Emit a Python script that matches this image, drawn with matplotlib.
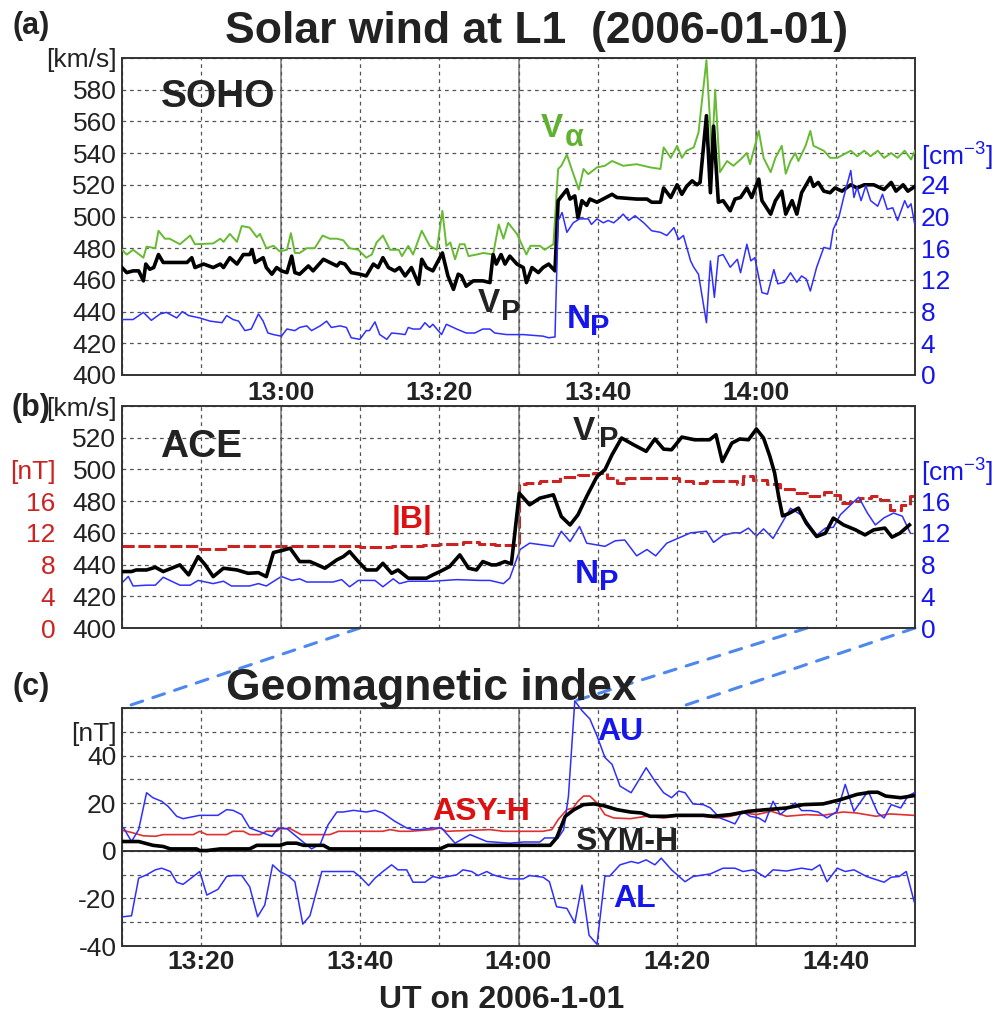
#### Solar wind at L1 / geomagnetic index, 2006-01-01 ####

import matplotlib
matplotlib.use('Agg')
import matplotlib.pyplot as plt
from matplotlib.patches import ConnectionPatch

plt.rcParams['font.family'] = ['Liberation Sans', 'DejaVu Sans']
plt.rcParams['mathtext.fontset'] = 'custom'
plt.rcParams['mathtext.rm'] = 'Liberation Sans'
plt.rcParams['mathtext.default'] = 'regular'

W, H = 992, 1016          # px
INK = '#222222'
BLUE = '#2f2fff'
BLUE_TXT = '#1515ee'
GREEN = '#66bb33'
RED = '#e03030'
BRED = '#cc2222'

T0_AB = 40   # panels a,b start at 12:40 UT (minutes after 12:00)
T0_C = 70    # panel c starts at 13:10 UT

# ---- SOHO (minutes after 12:40) ----
va_t = [0, 0.6, 1.4, 2.7, 3.1, 4.2, 4.6, 5.4, 6, 7.3,
        8.6, 9.2, 11.5, 12.4, 12.8, 13.6, 14.5, 15.1, 16.1, 17,
        17.4, 18.2, 19.1, 19.9, 20.8, 21.3, 21.8, 22.4, 23.3, 24.3,
        25.3, 26.2, 27.1, 27.9, 28.7, 29.8, 30.8, 31.5, 32.1, 32.9,
        33.8, 34.9, 35.3, 36.1, 36.7, 37.8, 38.8, 39.7, 40.4, 40.9,
        41.4, 42, 42.6, 43.2, 43.7, 44.7, 45.6, 46.8, 47.5, 48.1,
        48.7, 49.8, 51.0, 51.5, 52.7, 53.3, 54.4, 55.0, 55.4, 56.1,
        56.7, 57.6, 58.2, 58.8, 59.9, 60.9, 61.8, 63.2, 64.9, 66.6,
        67.9, 68.3, 69.2, 70.0, 70.6, 71.2, 72.1, 72.7, 73.7, 74.4,
        74.8, 75.4, 76.3, 77.1, 78.0, 78.8, 79.2, 80.3, 80.9, 81.8,
        82.4, 83.2, 83.7, 84.3, 84.9, 85.3, 86.2, 86.8, 87.2, 88.5,
        89.3, 90.2, 91.9, 92.7, 93.6, 94.4, 95.3, 96.1, 97.0, 97.8,
        98.7, 99.5, 100]
va = [479, 476, 479, 474, 481, 480, 491, 486, 486, 482.5,
      488, 482.5, 483, 486, 484, 489, 484, 494, 493, 487,
      489, 480, 481.5, 478, 479, 489.5, 477, 477, 480, 480,
      488, 486, 486, 485, 480, 479, 474, 476, 483.6, 488,
      479, 479, 475, 481.5, 476, 491, 481.5, 479, 503.6, 481.5,
      483.6, 473, 482.5, 482.5, 475, 476, 477, 476, 495, 486,
      496, 489, 476, 481.5, 481.5, 479, 482.5, 530, 532, 539,
      530, 517, 530, 526.7, 531, 532, 535, 532, 533, 531,
      530, 543.6, 537, 544.6, 537, 541.5, 543.6, 553, 598.7, 539,
      580, 528, 535, 532, 536, 540, 533, 554, 537, 528,
      537, 544.6, 527, 535, 540, 535, 544.6, 554, 544.6, 541.5,
      537, 537, 541.5, 538, 541.5, 538, 541.5, 537, 540, 537,
      541.5, 536, 541.5]

vp_t = [0, 0.6, 1.4, 2.1, 2.7, 3.0, 3.5, 4.0, 4.6, 5.2,
        6.5, 8.2, 8.8, 9.2, 10.3, 11.5, 12.4, 12.8, 13.6, 14.5,
        15.3, 16.1, 16.4, 16.8, 17.8, 18.2, 18.9, 19.5, 20.1, 20.8,
        21.4, 21.8, 22.4, 23.5, 24.1, 25.4, 26.2, 27.1, 27.5, 28.1,
        28.9, 30.0, 30.8, 31.7, 32.3, 32.9, 33.6, 34.4, 35.0, 35.7,
        36.5, 37.4, 37.8, 38.4, 39.2, 40.4, 41.1, 41.8, 42.4, 42.8,
        43.4, 44.3, 45.5, 46.4, 46.8, 47.2, 47.8, 48.3, 48.9, 49.8,
        50.6, 51.0, 51.7, 52.5, 53.1, 53.8, 54.6, 55.0, 56.1, 56.5,
        57.1, 57.5, 58.0, 58.6, 59.0, 59.9, 61.8, 62.4, 64.9, 66.2,
        66.8, 67.9, 68.3, 69.2, 70.0, 70.6, 71.2, 71.9, 72.5, 72.9,
        73.7, 74.2, 74.6, 75.2, 75.8, 76.7, 77.3, 78.0, 78.8, 79.4,
        80.3, 80.7, 81.8, 82.4, 83.2, 83.7, 84.5, 85.1, 85.7, 86.8,
        87.2, 87.8, 88.5, 89.3, 89.9, 90.8, 91.9, 92.7, 93.6, 94.8,
        96.1, 97.0, 97.6, 98.5, 99.1, 100]
vp = [467.8, 464.6, 465.7, 465.7, 459.4, 470, 466.7, 467.8, 476, 471,
      471, 471, 474, 467.8, 470, 467.8, 470, 467.8, 474, 470,
      476, 476, 479, 471, 474, 467.8, 463.6, 467.8, 465.7, 464.6,
      475, 464.6, 463.6, 468.8, 465.7, 473, 471, 468.8, 471, 470,
      464.6, 463.6, 462.5, 470, 467.8, 474, 467.8, 465.7, 467.8, 462.5,
      467.8, 457.3, 473, 467.8, 465.7, 477, 462.5, 454, 463.6, 462.5,
      456, 459.4, 459.4, 458.3, 476, 470, 476, 470, 475, 470,
      467.8, 458.3, 467.8, 464.6, 467.8, 470, 465.7, 510, 517, 511,
      513, 499, 510, 507, 511, 509, 514, 512, 511, 511,
      509, 509, 518, 512, 520, 514, 519, 522.5, 520, 521.5,
      563.6, 515, 557, 509, 510, 503.6, 511, 512, 518, 512,
      523.6, 510, 501.5, 510, 516, 501.5, 510, 501.5, 515, 524.6,
      519, 521.5, 516, 515, 518, 516, 520, 518, 520, 520,
      517, 521.5, 516, 520, 516, 519]

np_a_t = [0, 1.4, 2.7, 3.7, 4.8, 5.6, 6.9, 7.6, 8.4, 9.8,
          11.1, 12.6, 13.2, 14.0, 14.7, 15.5, 16.3, 17.2, 17.8, 18.4,
          19.1, 20.1, 20.8, 21.8, 22.4, 23.3, 23.9, 25.0, 25.8, 26.4,
          27.5, 28.3, 28.9, 30.0, 30.8, 31.2, 31.9, 32.5, 33.4, 34.0,
          35.0, 35.7, 36.1, 36.7, 37.6, 38.2, 38.8, 39.2, 40.3, 40.9,
          42.2, 43.4, 44.5, 45.5, 46.4, 47.0, 48.5, 50.6, 53.1, 53.8,
          54.6, 55.0, 55.5, 56.1, 56.9, 57.7, 58.8, 59.2, 59.9, 60.7,
          61.3, 62.0, 62.6, 63.2, 63.9, 64.7, 65.8, 66.8, 67.9, 68.7,
          69.6, 70.2, 70.8, 71.7, 72.1, 72.7, 73.7, 74.2, 74.7, 75.2,
          75.8, 76.7, 77.6, 78.0, 78.8, 79.3, 79.8, 80.7, 81.4, 82.2,
          82.7, 83.5, 84.3, 85.1, 85.7, 86.3, 86.8, 87.6, 88.5, 89.3,
          89.7, 90.4, 91.0, 91.9, 92.3, 92.7, 93.2, 93.8, 94.4, 95.3,
          95.9, 96.5, 97.2, 97.8, 98.7, 99.1, 99.5, 100]
np_a = [7.0, 7.0, 7.9, 6.9, 7.7, 7.9, 7.2, 8.0, 7.5, 7.2,
        6.8, 6.6, 7.5, 7.0, 6.8, 5.6, 5.8, 7.7, 6.8, 5.3,
        5.1, 4.9, 5.8, 5.6, 6.0, 6.2, 5.6, 6.2, 6.8, 6.0,
        6.2, 6.0, 4.7, 4.5, 5.6, 5.6, 6.7, 5.1, 4.5, 5.3,
        5.2, 5.1, 6.0, 5.8, 5.8, 6.6, 6.0, 6.4, 5.1, 6.4,
        5.8, 5.3, 5.3, 5.8, 5.8, 5.3, 5.1, 5.1, 4.9, 4.7,
        4.8, 19.5, 20.5, 18.0, 19.2, 19.7, 19.7, 19.0, 19.7, 19.2,
        19.5, 19.2, 19.7, 20.3, 19.5, 20.1, 19.2, 18.2, 18.0, 17.6,
        18.6, 17.1, 17.6, 14.4, 13.6, 12.7, 6.6, 14.4, 9.8, 15.0,
        15.2, 13.6, 14.6, 12.9, 16.5, 14.4, 14.8, 10.4, 10.2, 13.3,
        11.5, 11.7, 12.9, 11.7, 12.5, 12.1, 10.6, 13.6, 16.1, 15.9,
        18.4, 19.9, 22.4, 25.8, 22.4, 23.7, 22.0, 23.9, 22.0, 21.3,
        22.8, 20.9, 21.1, 19.5, 22.0, 21.1, 21.6, 18.8]

# ---- ACE (minutes after 12:40) ----
vb_t = [0, 1.2, 1.8, 3.1, 4.2, 5.2, 7.3, 8.4, 9.6, 10.5,
        11.5, 12.8, 14.5, 15.9, 17.2, 18.2, 19.1, 20.1, 21.2, 22.4,
        23.7, 25.6, 27.1, 27.9, 28.7, 29.6, 30.8, 32.1, 32.9, 34.0,
        34.8, 36.1, 38.4, 39.2, 40.1, 41.3, 42.6, 43.7, 44.7, 45.5,
        46.6, 47.2, 48.3, 49.1, 50.1, 51.4, 52.7, 54.4, 55.4, 56.5,
        57.5, 58.6, 59.9, 60.9, 61.8, 63.0, 64.5, 66.1, 67.2, 68.3,
        69.3, 70.6, 72.2, 74.1, 74.9, 75.7, 76.9, 77.9, 79.0, 80.0,
        80.9, 81.7, 82.3, 82.8, 83.3, 84.0, 85.3, 86.3, 87.6, 88.7,
        89.7, 91.0, 92.5, 93.7, 94.8, 96.2, 97.1, 98.1, 99.3]
vb = [435.6, 435.6, 436.6, 436.6, 438.3, 435.6, 439.8, 433.5, 445, 439.8,
      432.4, 437.7, 436.6, 434.5, 434.9, 432.4, 447.6, 448.8, 450.3, 441.9,
      441.9, 437.7, 443, 445, 448.2, 443, 436.6, 436.6, 440.8, 434.5,
      436.6, 431.4, 431.4, 433.5, 435.6, 438.7, 446.1, 437.7, 436.6, 441.9,
      439.8, 439.8, 441.9, 440.4, 485, 477.7, 481.9, 484, 470.3, 465,
      471.4, 483, 495.6, 499.8, 509.3, 519.8, 515.6, 511.4, 519.2, 512.8,
      512.4, 520.4, 518.7, 518.7, 521.9, 505, 516.6, 519.2, 518.7, 525.5,
      519.8, 508.2, 497.7, 483, 470.7, 472, 475.6, 466.1, 457.7, 459.8,
      469.3, 465, 461.9, 458.7, 461.9, 463, 457.3, 459.8, 465]

nb_t = [0, 0.8, 1.4, 3.1, 4.2, 5.2, 7.3, 8.6, 9.6, 11.5,
        12.8, 13.8, 16.1, 17.2, 18.2, 20.1, 21.4, 22.4, 23.3, 26.6,
        27.7, 28.7, 29.8, 31.9, 32.9, 34.2, 35.0, 36.1, 39.2, 42.2,
        45.1, 46.4, 48.1, 48.9, 50.2, 51.4, 54.4, 55.4, 56.5, 57.7,
        58.6, 60.9, 62.2, 63.4, 64.9, 66.2, 67.3, 68.7, 71.7, 73.7,
        74.6, 75.8, 77.1, 78.0, 79.0, 80.0, 80.9, 82.1, 84.3, 85.9,
        87.6, 88.7, 89.7, 90.6, 92.9, 94.0, 95.0, 96.1, 97.3, 98.4, 99.4]
nb = [5.7, 6.5, 5.3, 5.4, 5.4, 6.4, 5.4, 5.4, 6.0, 5.6,
      5.9, 5.3, 5.3, 5.6, 5.3, 6.5, 6.0, 6.2, 5.8, 5.8,
      6.1, 5.2, 6.0, 6.0, 5.2, 6.2, 5.6, 5.9, 5.9, 6.1,
      6.0, 6.0, 5.6, 6.3, 9.9, 10.7, 10.3, 12.2, 10.9, 12.8,
      10.7, 10.3, 11.0, 11.1, 9.1, 9.9, 9.1, 10.7, 12.0, 12.2,
      10.8, 11.7, 12.0, 12.0, 12.6, 11.6, 12.5, 11.3, 15.1, 14.1,
      11.7, 12.6, 12.7, 14.3, 16.5, 14.5, 13.0, 13.9, 14.5, 14.1, 12.0]

b_t = [0, 6, 9.8, 11.9, 13, 20, 27, 30, 34, 38,
       40, 43, 45, 47, 50, 51, 52.7, 55.2, 57.5, 59.4,
       61.1, 62.4, 63.6, 67, 70.3, 72, 73.7, 77.5, 78.3, 79.6,
       81.3, 83, 84.7, 86.4, 88.5, 89.7, 90.6, 91.8, 93.1, 94.4,
       95.6, 96.9, 98.2, 99.4, 100]
b_mag = [10.4, 10.3, 10.0, 10.0, 10.3, 10.4, 10.3, 10.2, 10.3, 10.5,
         10.6, 10.8, 10.6, 10.5, 18.1, 18.3, 18.5, 19.1, 19.3, 19.6,
         18.9, 18.3, 18.9, 18.9, 18.5, 18.3, 18.5, 18.1, 19.2, 18.7,
         18.1, 17.5, 17.0, 16.6, 17.2, 16.8, 15.8, 16.0, 16.4, 16.6,
         16.2, 14.9, 15.5, 16.6, 16.8]

# ---- geomagnetic indices (minutes after 13:10) ----
au_t = [0.2, 1.2, 2.1, 3.1, 3.9, 5.0, 5.8, 6.9, 7.7, 9.8,
        12.1, 13.2, 14.0, 15.1, 16.1, 17.8, 18.9, 19.7, 20.8, 23.9,
        25.0, 26.0, 27.1, 27.9, 29.2, 30.8, 31.9, 32.9, 34.4, 35.9,
        36.7, 37.6, 39.2, 40.3, 42.0, 43.9, 46.0, 48.9, 50.6, 52.7,
        53.3, 55.0, 55.7, 56.3, 57.1, 58.0, 59.0, 59.9, 60.9, 61.8,
        62.8, 64.2, 65.1, 66.1, 67.2, 68.3, 69.3, 70.2, 71.0, 72.0,
        73.3, 74.2, 75.4, 76.5, 77.3, 78.2, 79.2, 80.3, 81.1, 82.1,
        83.0, 84.0, 84.9, 85.7, 86.8, 87.8, 88.9, 90.2, 91.2, 92.3,
        94.1, 95.3, 96.1, 97.0, 98.2, 99.1, 99.9]
au = [9.6, 3.9, 8.9, 24.4, 22.3, 20.8, 18.7, 14.5, 13.5, 14.9,
      14.9, 17.3, 17.0, 15.2, 9.6, 7.5, 6.1, 9.6, 9.3, 0.8,
      2.8, 11.0, 16.3, 16.3, 17.0, 16.3, 17.0, 15.9, 12.4, 9.6,
      8.9, 8.9, 9.6, 9.6, 3.2, 6.8, 3.9, 3.2, 3.7, 3.7,
      5.4, 5.4, 8.9, 23.0, 63.0, 58.9, 55.4, 48.3, 39.2, 36.3,
      27.2, 24.4, 29.3, 34.9, 29.3, 24.4, 22.3, 25.1, 24.4, 19.7,
      19.4, 18.0, 13.8, 12.4, 11.3, 16.6, 14.5, 13.8, 12.1, 20.8,
      15.2, 18.0, 20.1, 16.9, 16.9, 16.3, 13.8, 16.6, 27.9, 16.6,
      25.1, 15.9, 13.8, 19.4, 18.0, 23.0, 24.4]

al_t = [0.2, 1.2, 2.1, 3.1, 4.2, 5.0, 6.1, 6.9, 7.7, 9.8,
        10.7, 12.1, 13.2, 14.0, 15.1, 16.1, 17.1, 18.0, 19.0, 19.9,
        21.0, 21.8, 22.8, 23.7, 25.2, 29.2, 30.0, 31.1, 31.9, 32.9,
        34.0, 34.8, 35.9, 36.7, 38.2, 39.2, 40.1, 41.1, 42.2, 43.0,
        44.1, 44.9, 46.0, 46.8, 47.5, 48.9, 50.6, 51.4, 53.1, 53.9,
        54.8, 56.1, 57.1, 58.0, 58.9, 59.9, 60.9, 61.5, 62.8, 64.2,
        65.1, 66.1, 67.2, 68.0, 69.3, 71.0, 72.0, 74.2, 75.8, 77.3,
        78.3, 79.6, 81.1, 82.1, 83.8, 85.7, 87.0, 88.0, 88.9, 90.2,
        91.2, 92.3, 93.9, 96.1, 97.0, 98.0, 98.9, 99.9]
al = [-27.7, -27.3, -11.5, -10.1, -8.0, -7.3, -8.7, -13.2, -14.1, -8.7,
      -18.6, -16.2, -10.8, -10.4, -10.4, -15.1, -27.7, -22.8, -5.9, -8.7,
      -10.6, -13.0, -30.8, -27.3, -8.7, -8.7, -10.8, -14.6, -11.5, -8.7,
      -5.9, -8.0, -8.0, -13.2, -13.2, -10.8, -11.5, -10.8, -10.1, -8.0,
      -8.7, -10.4, -8.7, -10.1, -10.8, -11.8, -11.8, -10.4, -11.1, -13.0,
      -23.5, -24.2, -30.3, -14.4, -35.5, -39.3, -10.6, -10.6, -5.9, -4.5,
      -5.2, -3.8, -5.9, -3.1, -8.0, -13.0, -10.8, -9.7, -7.3, -7.3,
      -8.7, -8.0, -11.1, -8.0, -8.5, -7.3, -8.0, -5.9, -13.0, -7.3,
      -8.7, -8.0, -10.8, -13.2, -11.1, -10.8, -8.7, -21.4]

asy_t = [0.2, 1.2, 2.7, 4.2, 5.2, 9.0, 9.8, 10.7, 13.2, 14.0,
         15.3, 16.1, 17.4, 18.2, 19.5, 19.9, 21.2, 22.6, 26.2, 27.3,
         32.9, 33.8, 35.0, 36.3, 39.2, 40.1, 40.9, 46.4, 48.1, 53.1,
         54.2, 55.0, 56.1, 56.9, 57.5, 58.2, 59.0, 59.9, 60.9, 62.0,
         64.1, 66.1, 68.3, 69.9, 73.3, 75.0, 76.7, 78.4, 80.0, 81.9,
         83.8, 86.3, 88.4, 90.9, 92.6, 95.1, 96.8, 99.8]
asy = [8.5, 7.7, 6.3, 6.1, 6.8, 6.8, 8.2, 6.8, 6.8, 8.2,
       8.2, 6.8, 6.8, 8.2, 8.2, 9.3, 9.3, 6.8, 6.8, 8.2,
       8.2, 8.9, 8.2, 8.2, 8.9, 9.6, 8.2, 8.9, 8.2, 8.2,
       8.9, 13.1, 17.3, 18.0, 20.8, 23.0, 23.0, 20.1, 15.2, 13.8,
       13.5, 14.5, 13.8, 14.5, 14.5, 13.8, 14.5, 15.9, 15.2, 16.6,
       14.5, 15.2, 14.9, 16.3, 15.9, 14.5, 15.5, 14.9]

sym_t = [0.2, 2.1, 3.9, 5.2, 6.1, 9.4, 9.8, 10.7, 12.4, 16.1,
         17.0, 19.9, 20.8, 22.0, 22.9, 25.4, 26.2, 40.1, 41.1, 46.4,
         54.0, 54.8, 55.9, 57.0, 58.2, 59.5, 60.7, 62.4, 64.1, 65.5,
         66.6, 68.7, 69.9, 73.3, 74.5, 76.7, 79.0, 81.3, 83.8, 85.9,
         88.4, 90.6, 92.7, 94.4, 95.3, 96.3, 98.2, 99.9]
sym = [3.9, 3.9, 2.3, 1.8, 0.8, 0.8, 0.1, 0.1, 0.8, 0.8,
       2.3, 2.3, 3.2, 3.2, 2.3, 2.3, 0.8, 0.8, 2.3, 2.3,
       2.3, 5.4, 14.5, 17.3, 19.4, 19.7, 19.0, 17.3, 16.3, 15.9,
       14.5, 14.5, 14.9, 14.9, 14.5, 15.2, 16.6, 17.3, 18.0, 19.4,
       19.7, 21.5, 23.7, 24.6, 24.6, 23.0, 22.3, 23.2]


def fp(x, y):
    # pixel position -> figure fraction
    return x / W, 1 - y / H


def hhmm(m):
    return '%d:%02d' % (12 + m // 60, m % 60)


def shift(ts, t0):
    return [t + t0 for t in ts]


def style_axes(ax, x0, solid):
    ax.set_xlim(x0, x0 + 100)
    xt = list(range(x0, x0 + 101, 10))
    ax.set_xticks(xt)
    ax.grid(True, color='#555555', linestyle=(0, (3, 3)), linewidth=0.9)
    for m in solid:
        ax.axvline(m, color='#777777', linewidth=1.1, zorder=1)
    ax.tick_params(length=0, pad=4, labelsize=19, colors=INK)
    for s in ax.spines.values():
        s.set_color('#333333')
        s.set_linewidth(1.4)
    return xt


def xlabels(ax, xt, x0, show=True):
    labs = []
    for m in xt:
        if show and m not in (x0, x0 + 100) and m % 20 == 0:
            labs.append(hhmm(m))
        else:
            labs.append('')
    ax.set_xticklabels(labs, fontweight='bold')


def twin_style(tw):
    for s in tw.spines.values():
        s.set_visible(False)
    tw.tick_params(length=0, pad=4, labelsize=19)


fig = plt.figure(figsize=(W / 100, H / 100), dpi=100)

# ---------------- (a) SOHO ----------------
ax_a = fig.add_axes([122 / W, 1 - 375 / H, 793 / W, 317 / H])
xt = style_axes(ax_a, T0_AB, [60, 90, 120])
xlabels(ax_a, xt, T0_AB)
ax_a.set_ylim(400, 600)
ax_a.set_yticks(range(400, 601, 20))
ax_a.set_yticklabels([str(v) for v in range(400, 600, 20)] + ['[km/s]'])
ax_a.plot(shift(va_t, T0_AB), va, color=GREEN, lw=1.4, zorder=3)
ax_a.plot(shift(vp_t, T0_AB), vp, color='black', lw=2.6, zorder=4)

ax_an = ax_a.twinx()
twin_style(ax_an)
ax_an.set_ylim(0, 40)
ax_an.set_yticks(range(0, 29, 4))
ax_an.set_yticklabels([str(v) for v in range(0, 25, 4)] + ['[cm$^{-3}$]'],
                      color=BLUE_TXT)
ax_an.plot(shift(np_a_t, T0_AB), np_a, color=BLUE, lw=1.1)

# ---------------- (b) ACE ----------------
ax_b = fig.add_axes([122 / W, 1 - 628 / H, 793 / W, 222 / H])
xt = style_axes(ax_b, T0_AB, [60, 90, 120])
xlabels(ax_b, xt, T0_AB, show=False)
ax_b.set_ylim(400, 540)
ax_b.set_yticks(range(400, 541, 20))
ax_b.set_yticklabels([str(v) for v in range(400, 540, 20)] + ['[km/s]'])

ax_bb = ax_b.twinx()
twin_style(ax_bb)
ax_bb.yaxis.tick_left()
ax_bb.spines['left'].set_position(('outward', 44))
ax_bb.set_ylim(0, 28)
ax_bb.set_yticks(range(0, 21, 4))
ax_bb.set_yticklabels([str(v) for v in range(0, 17, 4)] + ['[nT]'], color=BRED)
ax_bb.step(shift(b_t, T0_AB), b_mag, where='post', color=BRED, lw=2.2,
           linestyle=(0, (4, 1.2)))

ax_bn = ax_b.twinx()
twin_style(ax_bn)
ax_bn.set_ylim(0, 28)
ax_bn.set_yticks(range(0, 21, 4))
ax_bn.set_yticklabels([str(v) for v in range(0, 17, 4)] + ['[cm$^{-3}$]'],
                      color=BLUE_TXT)
ax_bn.plot(shift(nb_t, T0_AB), nb, color=BLUE, lw=1.1)

ax_b.set_zorder(ax_bn.get_zorder() + 1)
ax_b.patch.set_visible(False)
ax_b.plot(shift(vb_t, T0_AB), vb, color='black', lw=2.6, zorder=4)

# ---------------- (c) indices ----------------
ax_c = fig.add_axes([122 / W, 1 - 946 / H, 793 / W, 238 / H])
xt = style_axes(ax_c, T0_C, [90, 120, 150])
xlabels(ax_c, xt, T0_C)
ax_c.tick_params(axis='x', pad=3)
ax_c.set_ylim(-40, 60)
yt = list(range(-40, 61, 10))
ax_c.set_yticks(yt)
ax_c.set_yticklabels([str(v) if v % 20 == 0 and v < 60 else
                      ('[nT]' if v == 50 else '') for v in yt])
ax_c.axhline(0, color='#333333', lw=1.4, zorder=2)
ax_c.plot(shift(asy_t, T0_C), asy, color=RED, lw=1.2, zorder=3)
ax_c.plot(shift(al_t, T0_C), al, color=BLUE, lw=1.1, zorder=3)
ax_c.plot(shift(au_t, T0_C), au, color=BLUE, lw=1.1, zorder=3, clip_on=False)
ax_c.plot(shift(sym_t, T0_C), sym, color='black', lw=2.6, zorder=4)

# zoom connectors between ACE and the index panel
for (tb, tc, yc) in [(70, 70, 60), (126.4, 127.1, 63), (140, 140, 60)]:
    con = ConnectionPatch(xyA=(tb, 400), coordsA=ax_b.transData,
                          xyB=(tc, yc), coordsB=ax_c.transData,
                          color='#4d88ee', lw=2.2, linestyle=(0, (4, 3.5)))
    fig.add_artist(con)

# ---------------- texts ----------------
fig.text(*fp(537, 43), 'Solar wind at L1  (2006-01-01)', fontsize=32,
         fontweight='bold', color=INK, ha='center', va='baseline')
fig.text(*fp(431, 700), 'Geomagnetic index', fontsize=32,
         fontweight='bold', color=INK, ha='center', va='baseline')
fig.text(*fp(502, 1008), 'UT on 2006-1-01', fontsize=23,
         fontweight='bold', color=INK, ha='center', va='baseline')
for lab, y in [('(a)', 26), ('(b)', 408), ('(c)', 687)]:
    fig.text(*fp(31, y), lab, fontsize=22, fontweight='bold', color=INK,
             ha='center', va='center')

fig.text(*fp(218, 107), 'SOHO', fontsize=28, fontweight='bold', color=INK,
         ha='center', va='baseline')
fig.text(*fp(201, 457), 'ACE', fontsize=28, fontweight='bold', color=INK,
         ha='center', va='baseline')


def sub_label(x, y, main, xs, ys, sub, color, size=24, subsize=21):
    fig.text(*fp(x, y), main, fontsize=size, fontweight='bold', color=color,
             ha='left', va='baseline')
    fig.text(*fp(xs, ys), sub, fontsize=subsize, fontweight='bold',
             color=color, ha='left', va='baseline')


sub_label(541, 137, 'V', 565, 146, 'α', '#5fb12f', subsize=22)
sub_label(478, 312, 'V', 501, 320, 'P', INK)
sub_label(567, 328, 'N', 590, 335, 'P', BLUE_TXT)
sub_label(573, 440, 'V', 599, 447, 'P', INK)
sub_label(575, 583, 'N', 599, 590, 'P', BLUE_TXT)

fig.text(*fp(412, 528), '|B|', fontsize=23, fontweight='bold', color='#dd1111',
         ha='center', va='baseline')
fig.text(*fp(620, 740), 'AU', fontsize=23, fontweight='bold', color=BLUE_TXT,
         ha='center', va='baseline')
fig.text(*fp(481, 820), 'ASY-H', fontsize=23, fontweight='bold',
         color='#dd1111', ha='center', va='baseline')
fig.text(*fp(627, 850), 'SYM-H', fontsize=23, fontweight='bold', color=INK,
         ha='center', va='baseline')
fig.text(*fp(635, 907), 'AL', fontsize=23, fontweight='bold', color=BLUE_TXT,
         ha='center', va='baseline')

plt.savefig('out.png', dpi=100)
